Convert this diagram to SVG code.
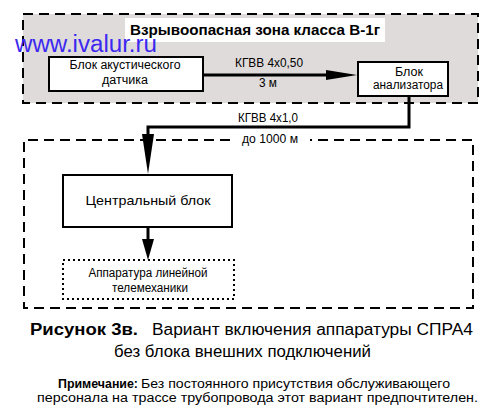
<svg xmlns="http://www.w3.org/2000/svg" width="500" height="417" viewBox="0 0 500 417">
<defs>
<style>
.t{font-family:"Liberation Sans",Arial,sans-serif;fill:#000}
.s12{font-size:12px}
.b{font-weight:bold}
.box{fill:#fff;stroke:#000;stroke-width:2}
.zone{stroke:#000;stroke-width:2;stroke-dasharray:10 6}
.wire{fill:none;stroke:#000;stroke-width:3}
</style>
</defs>
<rect width="500" height="417" fill="#fff"/>
<g id="zone-hazard">
<rect class="zone" x="23" y="14" width="455" height="89" fill="#dfdbda"/>
<rect x="125" y="18" width="260" height="24" fill="#fff"/>
<text class="t b" x="255" y="35" font-size="14.5" text-anchor="middle" textLength="250" lengthAdjust="spacingAndGlyphs">Взрывоопасная зона класса В-1г</text>
</g>
<g id="zone-safe">
<path class="zone" fill="none" d="M230 140 H24 V308 H473 V140 H310"/>
</g>
<g id="connectors">
<line class="wire" x1="203" y1="75" x2="330" y2="75"/>
<polygon points="326,70 357,75 326,80"/>
<text class="t s12" x="269" y="67" text-anchor="middle" textLength="68" lengthAdjust="spacingAndGlyphs">КГВВ 4x0,50</text>
<text class="t s12" x="268" y="87" text-anchor="middle" textLength="18" lengthAdjust="spacingAndGlyphs">3 м</text>
<polyline class="wire" points="409,96 409,127 148,127 148,140"/>
<polygon points="142,134 154,134 148,174"/>
<text class="t s12" x="268" y="122" text-anchor="middle" textLength="60" lengthAdjust="spacingAndGlyphs">КГВВ 4x1,0</text>
<text class="t s12" x="270" y="143" text-anchor="middle" textLength="56" lengthAdjust="spacingAndGlyphs">до 1000 м</text>
<line class="wire" x1="148" y1="227" x2="148" y2="244"/>
<polygon points="142,239 154,239 148,260"/>
</g>
<g id="node-sensor">
<rect class="box" x="49" y="57" width="154" height="34"/>
<text class="t s12" x="125" y="69" text-anchor="middle" textLength="111" lengthAdjust="spacingAndGlyphs">Блок акустического</text>
<text class="t s12" x="125" y="84" text-anchor="middle" textLength="46" lengthAdjust="spacingAndGlyphs">датчика</text>
</g>
<g id="node-analyzer">
<rect class="box" x="358" y="62" width="90" height="34"/>
<text class="t s12" x="409" y="76" text-anchor="middle" textLength="28" lengthAdjust="spacingAndGlyphs">Блок</text>
<text class="t s12" x="408" y="89" text-anchor="middle" textLength="70" lengthAdjust="spacingAndGlyphs">анализатора</text>
</g>
<g id="node-central">
<rect class="box" x="63" y="175" width="169" height="52"/>
<text class="t" x="148" y="205" font-size="13.5" text-anchor="middle" textLength="125" lengthAdjust="spacingAndGlyphs">Центральный блок</text>
</g>
<g id="node-telemech">
<rect x="63" y="260" width="171" height="39" fill="#fff" stroke="#000" stroke-width="2" stroke-dasharray="2 3"/>
<text class="t s12" x="148" y="277" text-anchor="middle" textLength="119" lengthAdjust="spacingAndGlyphs">Аппаратура линейной</text>
<text class="t s12" x="150" y="292" text-anchor="middle" textLength="76" lengthAdjust="spacingAndGlyphs">телемеханики</text>
</g>
<text x="15" y="52" font-family="Liberation Sans, Arial, sans-serif" font-size="23" fill="#3c28f0" textLength="142" lengthAdjust="spacingAndGlyphs">www.ivalur.ru</text>
<g id="caption">
<text class="t b" x="30" y="335" font-size="16" textLength="108" lengthAdjust="spacingAndGlyphs">Рисунок 3в.</text>
<text class="t" x="152" y="335" font-size="16" textLength="321" lengthAdjust="spacingAndGlyphs">Вариант включения аппаратуры СПРА4</text>
<text class="t" x="114" y="357" font-size="16" textLength="257" lengthAdjust="spacingAndGlyphs">без блока внешних подключений</text>
<text class="t b" x="58" y="388" font-size="12" textLength="80" lengthAdjust="spacingAndGlyphs">Примечание:</text>
<text class="t" x="141" y="388" font-size="12" textLength="309" lengthAdjust="spacingAndGlyphs">Без постоянного присутствия обслуживающего</text>
<text class="t" x="37" y="402" font-size="12" textLength="441" lengthAdjust="spacingAndGlyphs">персонала на трассе трубопровода этот вариант предпочтителен.</text>
</g>
</svg>
